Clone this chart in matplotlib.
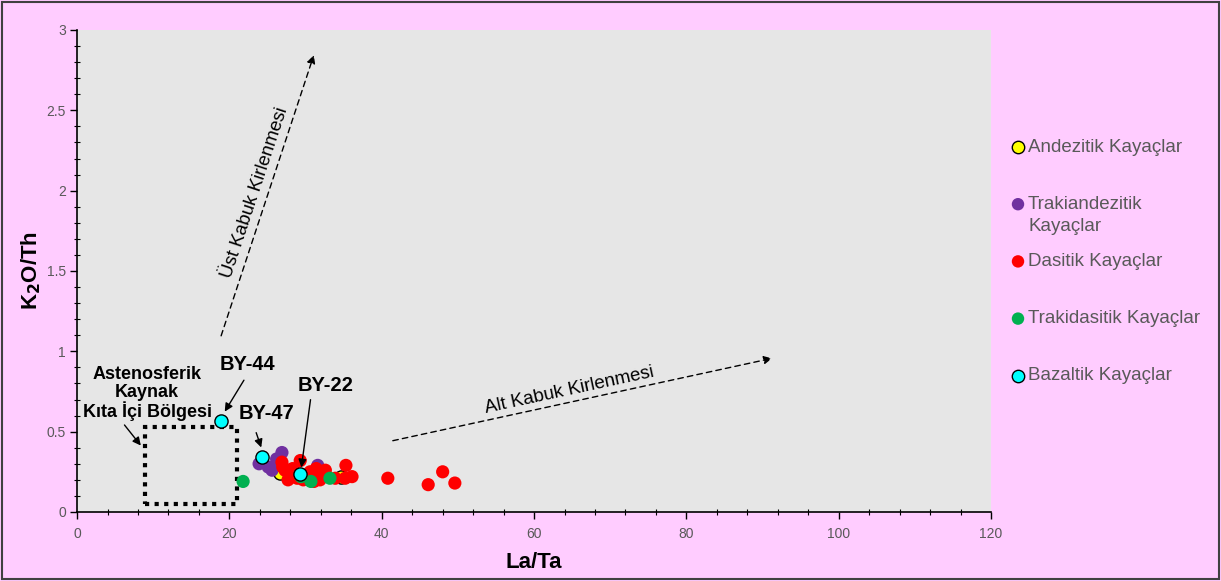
import matplotlib.pyplot as plt
from matplotlib.patches import Rectangle
from matplotlib.ticker import MultipleLocator

plt.rcParams["font.family"] = ["Liberation Sans", "DejaVu Sans"]

# La/Ta vs K2O/Th values
andezit_x = [26.6, 34.7]
andezit_y = [0.24, 0.22]

trakiandezit_x = [26.9, 23.9, 25.1, 25.6, 31.6, 29.8, 26.2]
trakiandezit_y = [0.37, 0.30, 0.28, 0.26, 0.29, 0.22, 0.33]

dasit_x = [29.3, 26.9, 27.3, 27.7, 28.9, 29.7, 30.6, 31.4, 32.2, 32.6, 31.1,
           33.9, 35.3, 35.2, 36.1, 40.8, 46.1, 48.0, 49.6, 28.3, 31.9, 27.0]
dasit_y = [0.32, 0.31, 0.26, 0.20, 0.21, 0.20, 0.25, 0.27, 0.25, 0.26, 0.19,
           0.21, 0.29, 0.21, 0.22, 0.21, 0.17, 0.25, 0.18, 0.27, 0.20, 0.28]

trakidasit_x = [21.8, 30.7, 33.2, 29.4]
trakidasit_y = [0.19, 0.19, 0.21, 0.22]

bazalt_x = [18.9, 24.3, 29.3]
bazalt_y = [0.566, 0.34, 0.235]

series = [
    ("Andezitik Kayaçlar", andezit_x, andezit_y, "#FFFF00", "black"),
    ("Trakiandezitik\nKayaçlar", trakiandezit_x, trakiandezit_y, "#7030A0", "none"),
    ("Dasitik Kayaçlar", dasit_x, dasit_y, "#FF0000", "none"),
    ("Trakidasitik Kayaçlar", trakidasit_x, trakidasit_y, "#00B050", "none"),
    ("Bazaltik Kayaçlar", bazalt_x, bazalt_y, "#00FFFF", "black"),
]

W, H = 1221, 581
fig = plt.figure(figsize=(W / 100, H / 100), dpi=100, facecolor="#FFCCFF")
ax = fig.add_axes([0.0631, 0.1188, 0.7486, 0.8296])
ax.set_facecolor("#E6E6E6")

for label, xs, ys, fc, ec in series:
    ax.scatter(xs, ys, s=90, c=fc, edgecolors=ec, linewidths=1.0 if ec != "none" else 0,
               zorder=3)

ax.set_xlim(0, 120)
ax.set_ylim(0, 3)
ax.xaxis.set_major_locator(MultipleLocator(20))
ax.xaxis.set_minor_locator(MultipleLocator(4))
ax.yaxis.set_major_locator(MultipleLocator(0.5))
ax.yaxis.set_minor_locator(MultipleLocator(0.1))
ax.yaxis.set_major_formatter(plt.FuncFormatter(lambda v, p: "{:g}".format(v)))
ax.tick_params(which="major", direction="out", length=5, width=1, labelsize=10,
               labelcolor="#595959", color="black")
ax.tick_params(which="minor", direction="inout", length=5, width=0.8, color="black")
ax.tick_params(axis="x", pad=6)
ax.tick_params(axis="y", pad=3)
for s in ["top", "right"]:
    ax.spines[s].set_visible(False)
for s in ["left", "bottom"]:
    ax.spines[s].set_color("black")
    ax.spines[s].set_linewidth(1.2)

ax.set_xlabel("La/Ta", fontsize=16, fontweight="bold")
ax.set_ylabel("K$_\\mathbf{2}$O/Th", fontsize=16, fontweight="bold")
ax.xaxis.set_label_coords(0.5, -0.083)
ax.yaxis.set_label_coords(-0.037, 0.5)

# dotted source region
ax.add_patch(Rectangle((8.9, 0.05), 12.1, 0.48, fill=False, linestyle=(0, (1, 1.3)),
                       linewidth=3, edgecolor="black", zorder=2))

arrow = dict(arrowstyle="-|>", color="black", lw=1, mutation_scale=12)
dashed = dict(arrowstyle="-|>", color="black", lw=1, linestyle=(0, (4, 3)),
              mutation_scale=12)

ax.annotate("", xy=(31.2, 2.86), xytext=(18.8, 1.08), arrowprops=dashed)
ax.annotate("", xy=(91.6, 0.96), xytext=(41.1, 0.44), arrowprops=dashed)
ax.text(23.4, 1.99, "Üst Kabuk Kirlenmesi", rotation=71.6, fontsize=13.5,
        ha="center", va="center")
ax.text(64.6, 0.76, "Alt Kabuk Kirlenmesi", rotation=12.2, fontsize=13.5,
        ha="center", va="center")

ax.text(9.2, 0.735, "Astenosferik\nKaynak\nKıta İçi Bölgesi", fontsize=13,
        fontweight="bold", ha="center", va="center", linespacing=1.05)
ax.annotate("", xy=(8.6, 0.40), xytext=(6.0, 0.555), arrowprops=arrow)

ax.text(22.4, 0.915, "BY-44", fontsize=14.5, fontweight="bold", ha="center", va="center")
ax.annotate("", xy=(19.2, 0.61), xytext=(22.1, 0.835), arrowprops=arrow)
ax.text(24.9, 0.61, "BY-47", fontsize=14.5, fontweight="bold", ha="center", va="center")
ax.annotate("", xy=(24.3, 0.385), xytext=(23.4, 0.51), arrowprops=arrow)
ax.text(32.6, 0.79, "BY-22", fontsize=14.5, fontweight="bold", ha="center", va="center")
ax.annotate("", xy=(29.4, 0.26), xytext=(30.7, 0.716), arrowprops=arrow)

# legend drawn by hand so that the two-line label keeps its marker on the first line
lax = fig.add_axes([0, 0, 1, 1], facecolor="none")
lax.set_xlim(0, W)
lax.set_ylim(H, 0)
lax.set_axis_off()
for i, (label, xs, ys, fc, ec) in enumerate(series):
    y = 147 + i * 57.2
    lax.scatter([1018], [y], s=80, c=fc, edgecolors=ec,
                linewidths=1.0 if ec != "none" else 0)
    for j, line in enumerate(label.split("\n")):
        lax.text(1028, y + j * 22.5, line, fontsize=13.5, color="#595959",
                 ha="left", va="center")

fig.patches.append(Rectangle((0.002, 0.003), 0.996, 0.994, transform=fig.transFigure,
                             fill=False, edgecolor="#404040", linewidth=1.5))

fig.savefig("out.png", dpi=100, facecolor=fig.get_facecolor())
